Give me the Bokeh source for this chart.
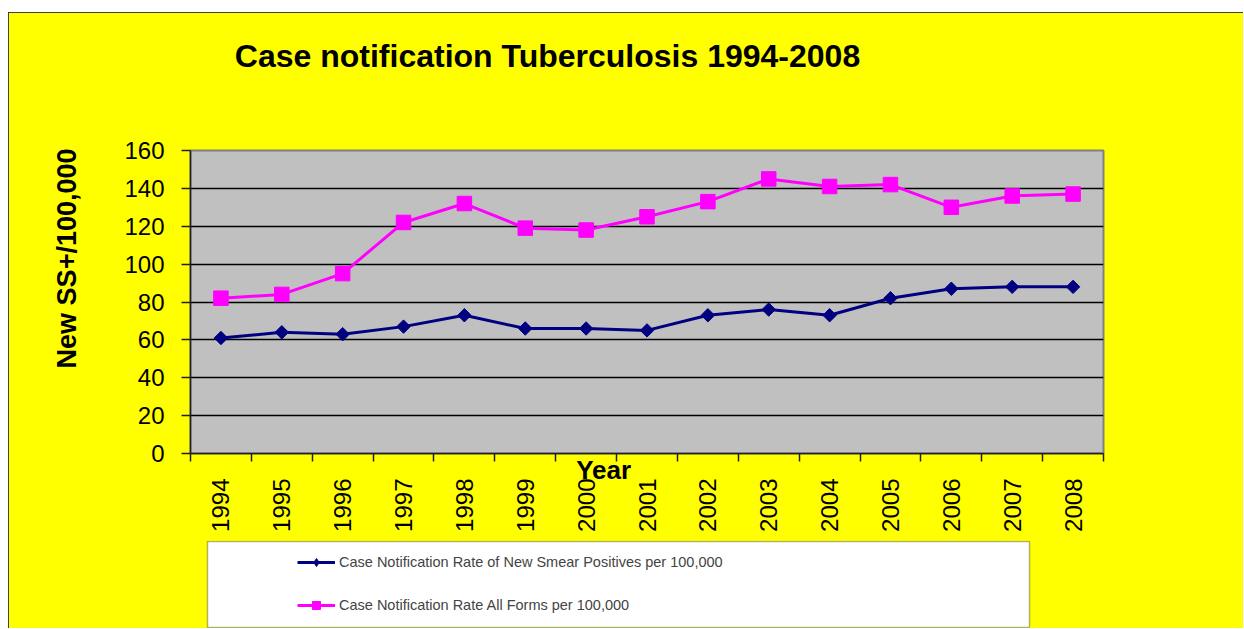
from math import pi
from bokeh.plotting import figure
from bokeh.layouts import column
from bokeh.models import Range1d, FixedTicker, Label, BoxAnnotation, Legend, LegendItem, Title
from bokeh.embed import file_html
from bokeh.resources import INLINE

# ---- data ----
years = [1994, 1995, 1996, 1997, 1998, 1999, 2000, 2001, 2002, 2003, 2004, 2005, 2006, 2007, 2008]
smear_positive = [61, 64, 63, 67, 73, 66, 66, 65, 73, 76, 73, 82, 87, 88, 88]
all_forms = [82, 84, 95, 122, 132, 119, 118, 125, 133, 145, 141, 142, 130, 136, 137]
y_ticks = [0, 20, 40, 60, 80, 100, 120, 140, 160]
title_text = "Case notification Tuberculosis 1994-2008"
y_label = "New SS+/100,000"
x_label = "Year"
series_names = ["Case Notification Rate of New Smear Positives per 100,000",
                "Case Notification Rate All Forms per 100,000"]

NAVY = "#000080"
MAGENTA = "#FF00FF"
YELLOW = "#FFFF00"
FONT = "Liberation Sans"
W = 1234


def blank(height):
    f = figure(width=W, height=height, output_backend="svg", toolbar_location=None,
               x_axis_type=None, y_axis_type=None, x_range=Range1d(0, 1), y_range=Range1d(0, 1),
               min_border=0, min_border_left=0, min_border_right=0, min_border_top=0, min_border_bottom=0)
    f.border_fill_color = YELLOW
    f.background_fill_color = YELLOW
    f.outline_line_color = None
    return f


# ---- title strip ----
top = blank(87)
top.add_layout(Label(x=357, y=45, x_units="screen", y_units="screen", text=title_text,
                     text_font=FONT, text_font_size="32px", text_font_style="bold",
                     text_align="center", text_baseline="alphabetic", text_color="black"))

# ---- main chart ----
p = figure(width=W, height=440, output_backend="svg", toolbar_location=None,
           x_range=Range1d(years[0] - 0.5, years[-1] + 0.5), y_range=Range1d(0, 160),
           min_border_left=181, min_border_right=140, min_border_top=50, min_border_bottom=87)
p.border_fill_color = YELLOW
p.background_fill_color = "#C0C0C0"
p.outline_line_color = "#808080"
p.outline_line_width = 2

p.xgrid.visible = False
p.ygrid.grid_line_color = "black"
p.ygrid.grid_line_width = 1.5

p.yaxis.ticker = FixedTicker(ticks=y_ticks)
p.yaxis.major_tick_out = 9
p.yaxis.major_tick_in = 0
p.yaxis.minor_tick_out = 0
p.yaxis.minor_tick_in = 0
p.yaxis.major_label_standoff = 17
p.yaxis.axis_line_color = "#202020"
p.yaxis.axis_line_width = 1.5
p.yaxis.major_tick_line_color = "#202020"
p.yaxis.major_tick_line_width = 1.5
p.yaxis.major_label_text_font = FONT
p.yaxis.major_label_text_font_size = "24px"
p.yaxis.major_label_text_color = "black"

p.xaxis.ticker = FixedTicker(ticks=years, minor_ticks=[y - 0.5 for y in years] + [years[-1] + 0.5])
p.xaxis.major_tick_out = 0
p.xaxis.major_tick_in = 0
p.xaxis.minor_tick_out = 8
p.xaxis.minor_tick_in = 0
p.xaxis.minor_tick_line_color = "#202020"
p.xaxis.minor_tick_line_width = 1.5
p.xaxis.axis_line_color = "#202020"
p.xaxis.axis_line_width = 1.5
p.xaxis.major_label_orientation = pi / 2
p.xaxis.major_label_standoff = 17
p.xaxis.major_label_text_font = FONT
p.xaxis.major_label_text_font_size = "24px"
p.xaxis.major_label_text_color = "black"
p.xaxis.axis_label = x_label + "\u00a0" * 12
p.xaxis.axis_label_standoff = -80
p.xaxis.axis_label_text_font = FONT
p.xaxis.axis_label_text_font_size = "26px"
p.xaxis.axis_label_text_font_style = "bold"
p.xaxis.axis_label_text_color = "black"

p.add_layout(Title(text=y_label, align="right", vertical_align="middle", offset=-2, standoff=78,
                   text_font=FONT, text_font_size="27px", text_font_style="bold",
                   text_color="black"), "left")

p.line(years, smear_positive, line_color=NAVY, line_width=3)
p.scatter(years, smear_positive, marker="square", angle=pi / 4, size=9.5,
          fill_color=NAVY, line_color=NAVY)
p.line(years, all_forms, line_color=MAGENTA, line_width=3)
p.scatter(years, all_forms, marker="square", size=14.5, fill_color=MAGENTA, line_color=MAGENTA)

# ---- legend strip ----
bot = blank(88)
bot.add_layout(BoxAnnotation(left=17, right=839, top=87, bottom=1,
                             left_units="screen", right_units="screen",
                             top_units="screen", bottom_units="screen",
                             fill_color="white", fill_alpha=1, line_color="black", line_width=1.5))
# legend swatches: series drawn in this strip fall outside its 0..1 ranges, only the legend shows them
g1 = bot.line(years, smear_positive, line_color=NAVY, line_width=3)
k1 = bot.scatter(years, smear_positive, marker="diamond", size=11, fill_color=NAVY, line_color=NAVY)
g2 = bot.line(years, all_forms, line_color=MAGENTA, line_width=3)
k2 = bot.scatter(years, all_forms, marker="square", size=10, fill_color=MAGENTA, line_color=MAGENTA)
legend = Legend(items=[LegendItem(label=series_names[0], renderers=[g1, k1]),
                       LegendItem(label=series_names[1], renderers=[g2, k2])],
                location=(107, 13), padding=0, margin=0, spacing=23,
                glyph_width=38, glyph_height=20, label_height=20, label_standoff=4,
                label_text_font=FONT, label_text_font_size="14.5px",
                background_fill_alpha=0, border_line_alpha=0)
bot.add_layout(legend)

layout = column(top, p, bot, spacing=0)
layout.margin = (12, 0, 0, 8)
layout.styles = {"border-left": "1px solid #404040", "border-top": "1px solid #404040",
                 "background-color": YELLOW}

open("out.html", "w").write(file_html(layout, INLINE))
